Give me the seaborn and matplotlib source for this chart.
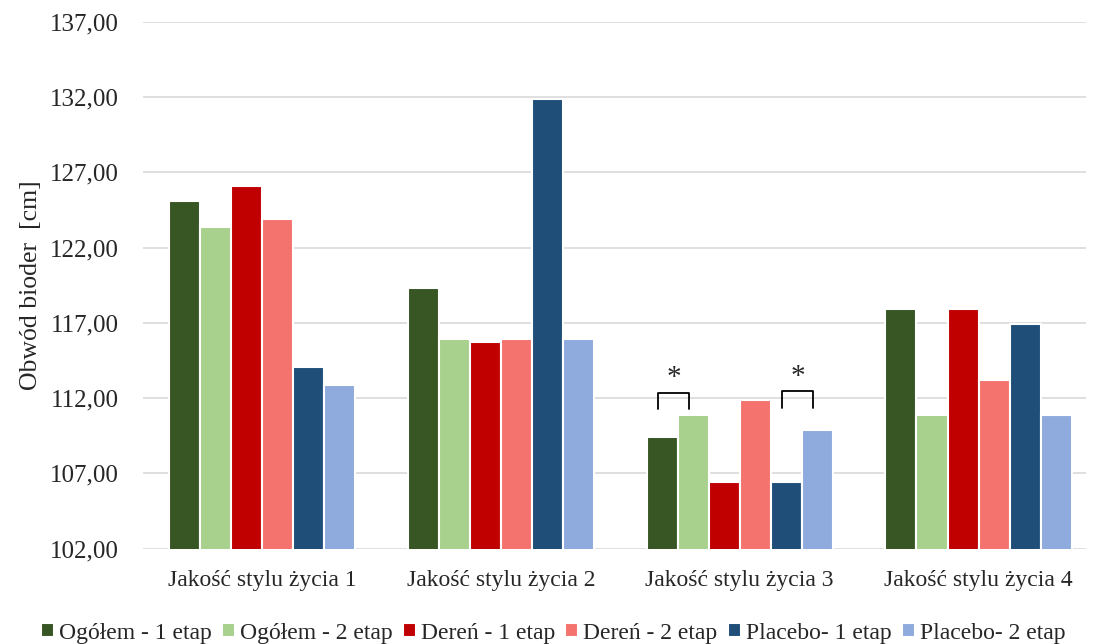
import numpy as np
import pandas as pd
import matplotlib.pyplot as plt
import seaborn as sns
from matplotlib.ticker import FuncFormatter

# Data
groups = ['Jakość stylu życia 1', 'Jakość stylu życia 2', 'Jakość stylu życia 3', 'Jakość stylu życia 4']
series = ['Ogółem - 1 etap', 'Ogółem - 2 etap', 'Dereń - 1 etap', 'Dereń - 2 etap',
          'Placebo- 1 etap', 'Placebo- 2 etap']
ogolem_1 = [125.1, 119.3, 109.4, 117.9]
ogolem_2 = [123.4, 115.9, 110.9, 110.9]
deren_1 = [126.1, 115.7, 106.4, 117.9]
deren_2 = [123.9, 115.9, 111.9, 113.2]
placebo_1 = [114.1, 131.9, 106.4, 116.9]
placebo_2 = [112.9, 115.9, 109.9, 110.9]
colors = ['#375623', '#A9D18E', '#C00000', '#F4736F', '#1F4E79', '#8FAADC']

rows = []
for name, vals in zip(series, [ogolem_1, ogolem_2, deren_1, deren_2, placebo_1, placebo_2]):
    for g, v in zip(groups, vals):
        rows.append({'grupa': g, 'seria': name, 'wartosc': v})
df = pd.DataFrame(rows)

sns.set_style("white")
plt.rcParams['font.family'] = ['Liberation Serif', 'DejaVu Serif']

fig, ax = plt.subplots(figsize=(10.97, 6.44), dpi=100)
sns.barplot(data=df, x='grupa', y='wartosc', hue='seria', palette=colors, saturation=1,
            width=0.78, edgecolor='white', linewidth=1.5, ax=ax, legend=True)

# bars start from the axis floor, not zero
ax.set_ylim(102, 137)
ax.set_xlim(-0.5, 3.45)
ax.set_yticks(np.arange(102, 138, 5))
ax.yaxis.set_major_formatter(FuncFormatter(lambda v, p: f'{v:.2f}'.replace('.', ',')))
ax.grid(axis='y', color='#D9D9D9', linewidth=1.2)
ax.set_axisbelow(True)
for s in ax.spines.values():
    s.set_visible(False)
ax.tick_params(axis='y', length=0, labelsize=18, pad=17)
ax.tick_params(axis='x', length=0, labelsize=17, pad=15)
ax.set_xlabel('')
ax.set_ylabel('Obwód bioder  [cm]', fontsize=18.5, labelpad=6)

# significance brackets in group 3
bars = [p for p in ax.patches if p.get_height() > 0]
def bar_center(series_idx, group_idx):
    b = bars[series_idx * len(groups) + group_idx]
    return b.get_x() + b.get_width() / 2

for (a, b), top in [((0, 1), 112.35), ((4, 5), 112.45)]:
    x1 = bar_center(a, 2) - 4 / 236
    x2 = bar_center(b, 2) - 4 / 236
    ax.plot([x1, x1, x2, x2], [top - 1.1, top, top, top - 1.1], color='black', lw=1.3)
    ax.text((x1 + x2) / 2, top + 0.1, '*', ha='center', va='bottom', fontsize=21)

ax.legend(loc='upper center', bbox_to_anchor=(0.435, -0.1), ncol=6, frameon=False,
          fontsize=17, handlelength=0.55, handleheight=0.55, handletextpad=0.2,
          columnspacing=0.45)

plt.subplots_adjust(left=0.13, right=0.99, top=0.966, bottom=0.148)
plt.savefig('out.png', dpi=100)
